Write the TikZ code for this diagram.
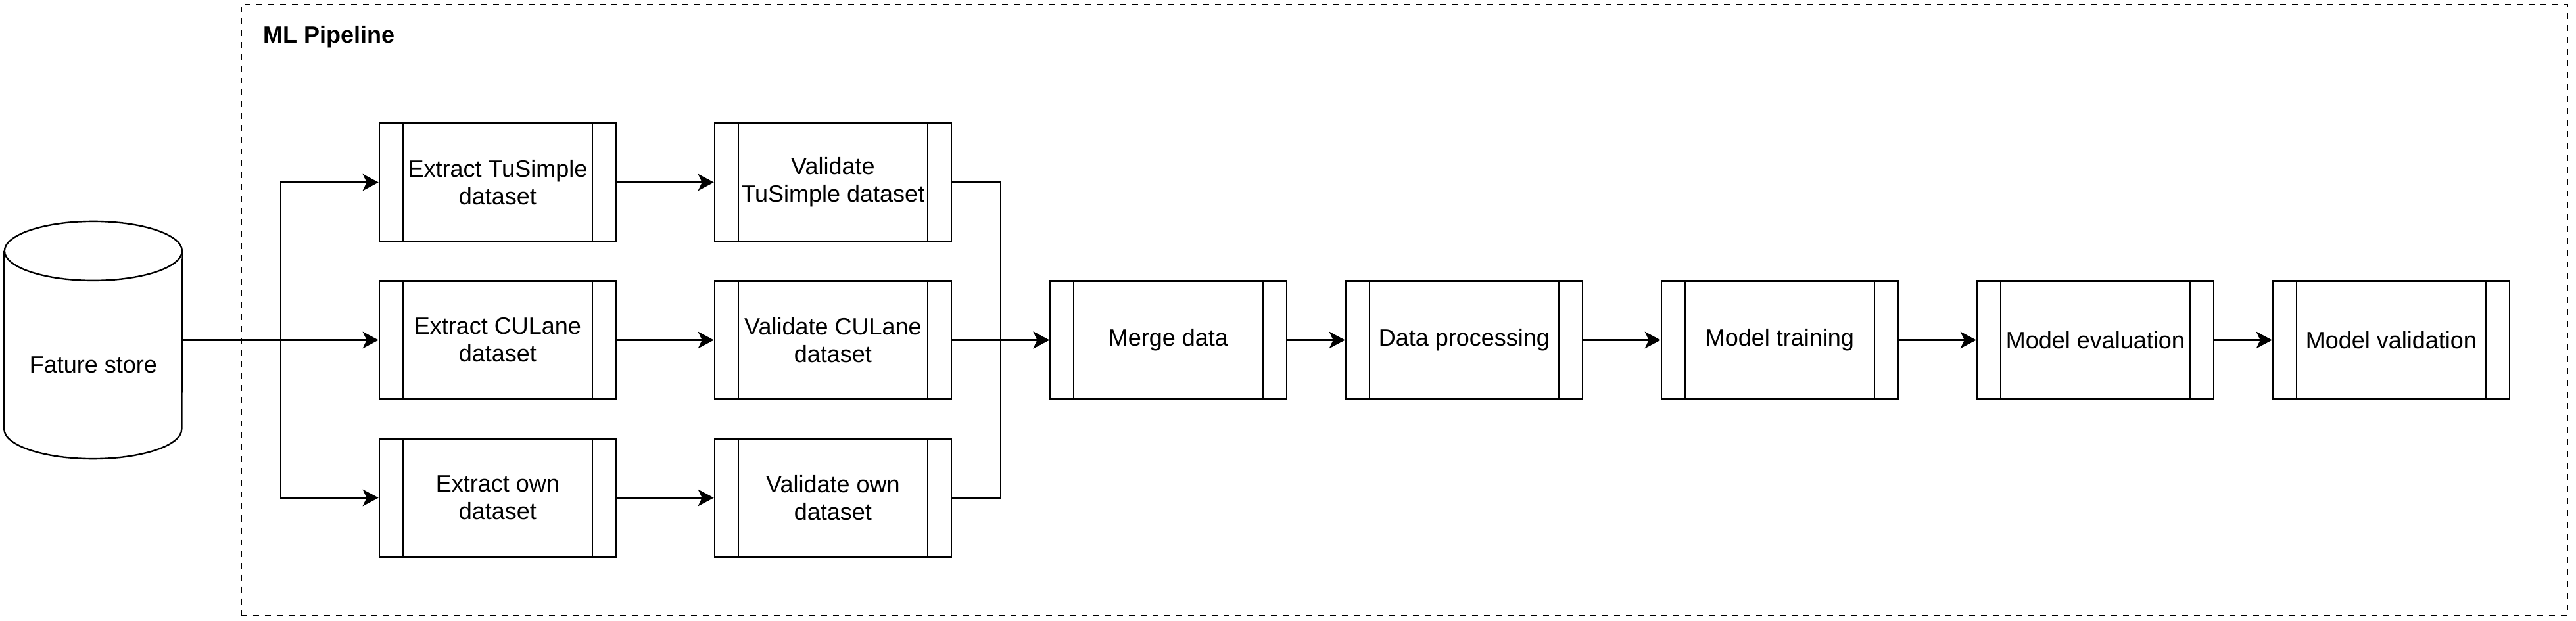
\documentclass[tikz,border=0pt]{standalone}
\usepackage{fontspec}
\setmainfont{Liberation Sans}
\usepackage{tikz}
\usetikzlibrary{positioning,arrows.meta,calc}

\begin{document}
\begin{tikzpicture}[
    x=1pt, y=-1pt,
    baseText/.style={font=\fontsize{12pt}{14pt}\selectfont, align=center},
    processBox/.style={baseText, rectangle, draw=black, line width=0.8pt, fill=white, minimum width=120pt, minimum height=60pt, inner sep=0pt,
        path picture={
            \draw[line width=0.8pt] ([xshift=12pt]path picture bounding box.south west) -- ([xshift=12pt]path picture bounding box.north west);
            \draw[line width=0.8pt] ([xshift=-12pt]path picture bounding box.south east) -- ([xshift=-12pt]path picture bounding box.north east);
        }},
    storeBody/.style={rectangle, minimum width=90pt, minimum height=120pt, inner sep=0pt},
    groupFrame/.style={rectangle, draw=black, line width=0.8pt, dash pattern=on 3pt off 3pt, minimum width=1179.4pt, minimum height=310pt, inner sep=0pt},
    groupTitle/.style={font=\fontsize{12pt}{14pt}\selectfont\bfseries, inner sep=0pt},
    flowArrow/.style={-{Stealth[length=8pt, width=8.5pt, inset=2pt]}, line width=0.8pt, draw=black}
]
    \path[use as bounding box, fill=white] (0,0) rectangle (1306,315);

    % Pipeline container
    \node[groupFrame] (pipeline) at (712,157.3) {};
    \node[groupTitle, anchor=base west] (title) at (133.3,21.7) {ML Pipeline};

    % Feature store (cylinder)
    \node[storeBody, label={[baseText, yshift=-12.5pt]center:Fature store}] (store) at (47.3,172.5) {};
    \draw[line width=0.8pt] ([yshift=-15pt]store.north) ellipse [x radius=45, y radius=15];
    \draw[line width=0.8pt] ([yshift=-15pt]store.north west) -- ([yshift=15pt]store.south west)
        arc[start angle=180, end angle=0, x radius=45, y radius=15]
        -- ([yshift=-15pt]store.north east);

    % Extract row
    \node[processBox] (ex1) at (252.3,92.5) {Extract TuSimple\\dataset};
    \node[processBox] (ex2) at (252.3,172.5) {Extract CULane\\dataset};
    \node[processBox] (ex3) at (252.3,252.5) {Extract own\\dataset};

    % Validate row
    \node[processBox] (va1) at (422.3,92.5) {Validate\\TuSimple dataset};
    \node[processBox] (va2) at (422.3,172.5) {Validate CULane\\dataset};
    \node[processBox] (va3) at (422.3,252.5) {Validate own\\dataset};

    % Main chain
    \node[processBox] (merge) at (592.3,172.5) {Merge data};
    \node[processBox] (prep) at (742.3,172.5) {Data processing};
    \node[processBox] (train) at (902.3,172.5) {Model training};
    \node[processBox] (eval) at (1062.3,172.5) {Model evaluation};
    \node[processBox] (valid) at (1212.3,172.5) {Model validation};

    % Fork and join points
    \coordinate (fork) at (142.3,172.5);
    \coordinate (join) at (507.3,172.5);

    % Store to extract steps
    \draw[flowArrow] (store.east) -- (ex2.west);
    \draw[flowArrow] (fork) |- (ex1.west);
    \draw[flowArrow] (fork) |- (ex3.west);

    % Extract to validate
    \draw[flowArrow] (ex1) -- (va1);
    \draw[flowArrow] (ex2) -- (va2);
    \draw[flowArrow] (ex3) -- (va3);

    % Validate to merge
    \draw[flowArrow] (va1.east) -| (join) -- (merge.west);
    \draw[flowArrow] (va2.east) -- (merge.west);
    \draw[flowArrow] (va3.east) -| (join) -- (merge.west);

    % Training chain
    \draw[flowArrow] (merge) -- (prep);
    \draw[flowArrow] (prep) -- (train);
    \draw[flowArrow] (train) -- (eval);
    \draw[flowArrow] (eval) -- (valid);
\end{tikzpicture}
\end{document}
